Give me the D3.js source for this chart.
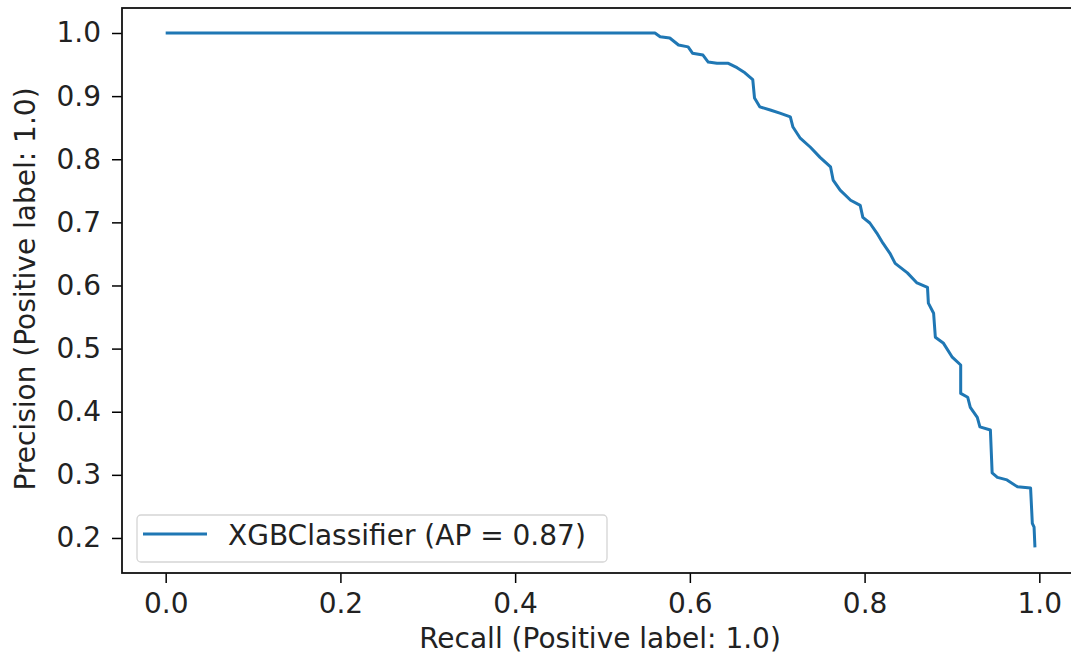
<!DOCTYPE html>
<html><head><meta charset="utf-8">
<script src="https://cdn.jsdelivr.net/npm/d3@7"></script>
<style>body{margin:0;background:#fff;}svg{display:block;font-family:"DejaVu Sans",sans-serif;}</style>
</head><body>
<svg id="chart" width="1071" height="657"></svg>
<script>
const recall = [0.0,0.560,0.566,0.577,0.587,0.598,0.603,0.615,0.621,0.631,0.644,0.654,0.663,0.672,0.674,0.680,0.692,0.703,0.715,0.718,0.726,0.738,0.749,0.761,0.764,0.772,0.784,0.795,0.798,0.806,0.814,0.821,0.829,0.835,0.849,0.860,0.872,0.873,0.879,0.881,0.890,0.900,0.910,0.910,0.918,0.921,0.929,0.932,0.944,0.946,0.952,0.963,0.975,0.990,0.992,0.994,0.995];
const precision = [1.0,1.0,0.994,0.992,0.981,0.978,0.968,0.965,0.954,0.952,0.952,0.945,0.937,0.926,0.897,0.883,0.878,0.873,0.867,0.851,0.834,0.819,0.803,0.788,0.767,0.751,0.735,0.727,0.708,0.699,0.683,0.667,0.651,0.635,0.620,0.604,0.597,0.572,0.556,0.518,0.509,0.487,0.474,0.429,0.423,0.407,0.391,0.376,0.371,0.303,0.296,0.292,0.281,0.279,0.223,0.217,0.185];
const xTicks = [0.0,0.2,0.4,0.6,0.8,1.0];
const yTicks = [0.2,0.3,0.4,0.5,0.6,0.7,0.8,0.9,1.0];
const seriesName = "XGBClassifier (AP = 0.87)";
const xLabel = "Recall (Positive label: 1.0)";
const yLabel = "Precision (Positive label: 1.0)";

const svg = d3.select("#chart");
const L = 122, R = 1083, T = 8, B = 573;
const x = d3.scaleLinear().domain([-0.05, 1.05]).range([L, R]);
const y = d3.scaleLinear().domain([0.1445, 1.0396]).range([B, T]);
const fs = 28;

const pts = recall.map((r, i) => [r, precision[i]]);
svg.append("path").datum(pts)
  .attr("fill", "none").attr("stroke", "#1f77b4").attr("stroke-width", 3)
  .attr("stroke-linejoin", "round")
  .attr("d", d3.line().x(d => x(d[0])).y(d => y(d[1])));

const xAxis = svg.append("g").attr("transform", `translate(0,${B})`)
  .call(d3.axisBottom(x).tickValues(xTicks).tickFormat(d3.format(".1f")).tickSizeInner(10).tickSizeOuter(0).tickPadding(10));
const yAxis = svg.append("g").attr("transform", `translate(${L},0)`)
  .call(d3.axisLeft(y).tickValues(yTicks).tickFormat(d3.format(".1f")).tickSizeInner(10).tickSizeOuter(0).tickPadding(11));
[xAxis, yAxis].forEach(g => {
  g.select(".domain").remove();
  g.selectAll(".tick line").attr("stroke", "#000").attr("stroke-width", 1.5);
  g.selectAll(".tick text").attr("fill", "#222").style("font-size", fs + "px").style("font-family", "DejaVu Sans");
});

svg.append("rect").attr("x", L).attr("y", T).attr("width", R - L).attr("height", B - T)
  .attr("fill", "none").attr("stroke", "#111").attr("stroke-width", 1.8);

svg.append("text").attr("x", 600).attr("y", 648).attr("text-anchor", "middle")
  .attr("fill", "#222").style("font-size", fs + "px").text(xLabel);
svg.append("text").attr("transform", `translate(35,289) rotate(-90)`).attr("text-anchor", "middle")
  .attr("fill", "#222").style("font-size", fs + "px").text(yLabel);

const lg = svg.append("g");
lg.append("rect").attr("x", 137).attr("y", 515).attr("width", 470).attr("height", 47).attr("rx", 4)
  .attr("fill", "#fff").attr("fill-opacity", 0.8).attr("stroke", "#d5d5d5").attr("stroke-width", 1.3);
lg.append("line").attr("x1", 143).attr("x2", 207).attr("y1", 534).attr("y2", 534)
  .attr("stroke", "#1f77b4").attr("stroke-width", 3);
lg.append("text").attr("x", 228).attr("y", 545).attr("fill", "#222").style("font-size", fs + "px").text(seriesName);
</script>
</body></html>
